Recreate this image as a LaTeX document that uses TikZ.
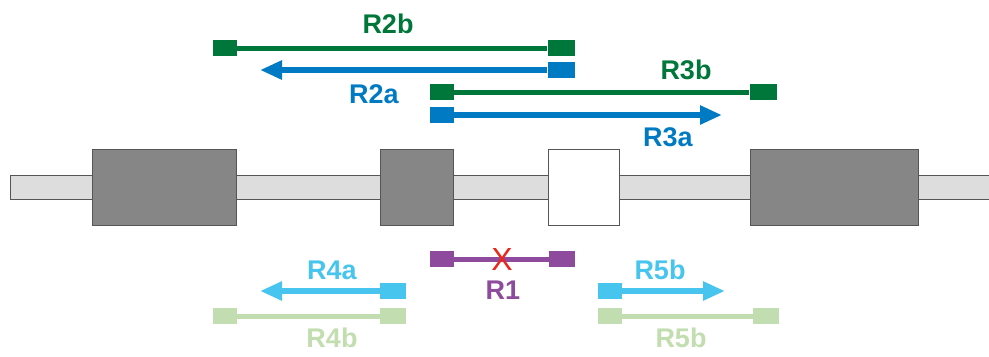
\documentclass[tikz,border=0pt]{standalone}
\usepackage{fontspec}
\setmainfont{Liberation Sans}
\usetikzlibrary{arrows.meta}
\definecolor{dgreen}{RGB}{0,119,58}
\definecolor{mblue}{RGB}{0,122,195}
\definecolor{lblue}{RGB}{72,197,239}
\definecolor{lgreen}{RGB}{194,222,176}
\definecolor{purp}{RGB}{142,74,156}
\definecolor{xred}{RGB}{232,39,30}
\definecolor{barfill}{RGB}{221,221,221}
\definecolor{exfill}{RGB}{134,134,134}
\definecolor{edge}{RGB}{85,85,85}
\tikzset{
  sq/.style={rectangle, minimum width=24bp, minimum height=16bp, inner sep=0pt, draw=none},
  lbl/.style={font=\fontsize{27bp}{27bp}\selectfont\bfseries, inner sep=0pt},
  ln/.style={line width=5bp},
  arr/.style={line width=5.5bp, -{Triangle[length=22bp,width=18bp]}},
  exon/.style={rectangle, draw=edge, line width=1bp, fill=exfill, inner sep=0pt},
}
\begin{document}
\begin{tikzpicture}[x=1bp,y=-1bp]
\useasboundingbox (0,0) rectangle (989,356);
% backbone
\node[rectangle, draw=edge, line width=0.8bp, fill=barfill, inner sep=0pt, anchor=north west, minimum width=985bp, minimum height=24bp] (bar) at (10,175) {};
% exons
\node[exon, anchor=north west, minimum width=144bp, minimum height=76bp] (e1) at (92,149) {};
\node[exon, anchor=north west, minimum width=73bp, minimum height=76bp] (e2) at (380,149) {};
\node[exon, fill=white, anchor=north west, minimum width=71bp, minimum height=76bp] (e3) at (548,149) {};
\node[exon, anchor=north west, minimum width=168bp, minimum height=76bp] (e4) at (750,149) {};
% R2b
\node[sq, fill=dgreen] (r2bl) at (225,48) {};
\node[sq, fill=dgreen, minimum width=27bp] (r2br) at (561,48) {};
\draw[ln, dgreen] (r2bl.east) -- (r2br.west);
\node[lbl, text=dgreen] (t2b) at (388,24) {R2b};
% R2a
\node[sq, fill=mblue, minimum width=27bp] (r2a) at (561,70) {};
\coordinate (r2atip) at (260,70);
\draw[arr, mblue] (r2a.west) -- (r2atip);
\node[lbl, text=mblue] (t2a) at (374,94) {R2a};
% R3b
\node[sq, fill=dgreen] (r3bl) at (442,92) {};
\node[sq, fill=dgreen, minimum width=27bp] (r3br) at (763,92) {};
\draw[ln, dgreen] (r3bl.east) -- (r3br.west);
\node[lbl, text=dgreen] (t3b) at (686,70) {R3b};
% R3a
\node[sq, fill=mblue] (r3a) at (442,115) {};
\coordinate (r3atip) at (722,115);
\draw[arr, mblue] (r3a.east) -- (r3atip);
\node[lbl, text=mblue] (t3a) at (668,137) {R3a};
% R1
\node[sq, fill=purp] (r1l) at (442,259) {};
\node[sq, fill=purp, minimum width=26bp] (r1r) at (562,259) {};
\draw[ln, purp] (r1l.east) -- (r1r.west);
\node[inner sep=0pt, text=xred, font=\fontsize{32bp}{32bp}\selectfont] (x) at (502,259) {X};
\node[lbl, text=purp] (t1) at (503,290) {R1};
% R4a
\node[sq, fill=lblue, minimum width=26bp] (r4a) at (393,291) {};
\coordinate (r4atip) at (260,291);
\draw[arr, lblue] (r4a.west) -- (r4atip);
\node[lbl, text=lblue] (t4a) at (332,270) {R4a};
% R4b
\node[sq, fill=lgreen] (r4bl) at (225,316) {};
\node[sq, fill=lgreen, minimum width=26bp] (r4br) at (393,316) {};
\draw[ln, lgreen] (r4bl.east) -- (r4br.west);
\node[lbl, text=lgreen] (t4b) at (332,338) {R4b};
% R5b arrow
\node[sq, fill=lblue] (r5a) at (610,291) {};
\coordinate (r5atip) at (725,291);
\draw[arr, lblue] (r5a.east) -- (r5atip);
\node[lbl, text=lblue] (t5a) at (660,270) {R5b};
% R5b light
\node[sq, fill=lgreen] (r5bl) at (610,316) {};
\node[sq, fill=lgreen, minimum width=26bp] (r5br) at (766,316) {};
\draw[ln, lgreen] (r5bl.east) -- (r5br.west);
\node[lbl, text=lgreen] (t5b) at (681,338) {R5b};
\end{tikzpicture}
\end{document}
